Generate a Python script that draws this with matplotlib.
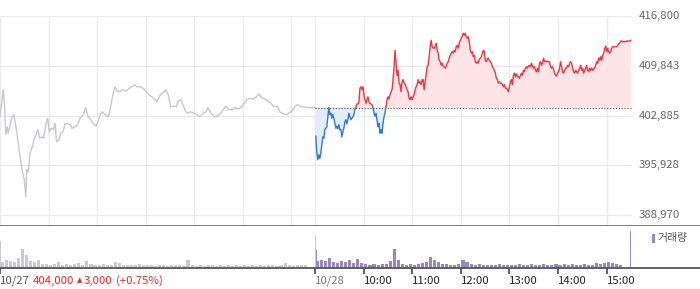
import numpy as np
import matplotlib
matplotlib.use("Agg")
import matplotlib.pyplot as plt
from matplotlib.patches import Rectangle
from matplotlib.transforms import blended_transform_factory

# ---------------- data ----------------
prev_close = 404000
y_ticks = [388970, 395928, 402885, 409843, 416800]
y_tick_labels = ["388,970", "395,928", "402,885", "409,843", "416,800"]

# 10/27 (previous day) minutes after 09:00 and prices
day1_minutes = [0, 4, 6, 7, 9, 10, 12, 15, 17, 20, 22, 25, 27, 30, 32, 33, 35, 37, 40, 42,
                45, 47, 49, 52, 54, 57, 59, 61, 63, 66, 68, 70, 73, 75, 78, 80, 83, 87, 89, 93,
                96, 99, 103, 106, 109, 111, 115, 119, 121, 124, 126, 130, 134, 136, 140, 142,
                145, 148, 152, 156, 160, 163, 167, 169, 173, 177, 181, 184, 188, 192, 194, 197,
                199, 203, 205, 208, 211, 214, 218, 220, 224, 226, 230, 232, 236, 240, 244, 247,
                251, 255, 257, 261, 265, 268, 272, 276, 279, 283, 287, 291, 294, 298, 302, 305,
                309, 313, 317, 320, 324, 328, 331, 335, 339, 343, 346, 350, 354, 357, 361, 365,
                368, 372, 376, 380, 383, 387, 390]
day1_prices = [402700, 406500, 403700, 400200, 401300, 400400, 401300, 402700, 403000, 401100,
               399500, 397100, 395500, 393900, 391500, 395300, 395000, 397600, 398500, 399500,
               400400, 400900, 399700, 399900, 399700, 401800, 402500, 400600, 401100, 400900,
               401800, 399200, 399500, 400400, 400600, 401600, 401800, 401600, 401100, 401300,
               401600, 402500, 403000, 404000, 402700, 402500, 401800, 401400, 402000, 403000,
               403400, 403000, 402700, 403700, 406000, 406900, 406300, 406200, 406500, 406300,
               406700, 406900, 407200, 406900, 406900, 406700, 406200, 405800, 405500, 405100,
               404800, 405500, 405900, 406200, 406500, 405800, 404100, 404200, 404100, 404900,
               405100, 404400, 403400, 403200, 403400, 403200, 403000, 402700, 403200, 403400,
               404000, 403200, 402700, 402800, 403100, 403700, 404200, 403700, 403700, 404000,
               403800, 404000, 404600, 405100, 405300, 405200, 405500, 405900, 405300, 405200,
               404900, 404600, 404100, 404200, 403400, 403100, 403000, 403200, 403500, 404200,
               404400, 404100, 404100, 404000, 404000, 404000, 404000]

# 10/28 prices, 09:00 -> 15:30, evenly sampled
day2_prices = [
    400000, 397600, 396700, 397400, 396900, 397600, 398800, 399900, 399700, 400900,
    401100, 401300, 402700, 404000, 403000, 403200, 402500, 403000, 402500, 401800,
    401100, 401400, 401000, 401600, 400900, 400900, 399900, 400600, 401100, 402000,
    402300, 401700, 402300, 403200, 402700, 402300, 402500, 402700, 403000, 403700,
    404100, 404500, 404500, 404800, 406700, 406900, 406500, 406900, 405800, 405100,
    404600, 405100, 405500, 404800, 404600, 404500, 404400, 404000, 403200, 402800,
    403200, 402300, 401300, 401800, 400400, 400900, 400400, 401800, 402700, 403200,
    404100, 405100, 405500, 405200, 405800, 406200, 406500, 407900, 409700, 412000,
    410200, 408500, 409200, 407400, 407200, 406200, 407600, 407900, 407400, 407300,
    406900, 406500, 406200, 405300, 405100, 405500, 405100, 405500, 405800, 406500,
    406900, 407200, 407900, 407400, 407600, 407200, 407900, 407900, 406500, 407600,
    408800, 409700, 409900, 411100, 412500, 413400, 412500, 412300, 412300, 412500,
    413000, 412000, 411600, 410600, 410400, 409900, 410200, 409700, 409700, 409500,
    409700, 410200, 410400, 410900, 411300, 411600, 411800, 411600, 412000, 411800,
    412500, 412700, 412300, 413000, 413400, 413700, 413900, 414400, 414100, 414400,
    413900, 413700, 413900, 413200, 412000, 411600, 411800, 411100, 411300, 410400,
    410200, 410400, 410200, 410800, 410900, 411100, 411600, 412000, 411800, 410600,
    410400, 410800, 410900, 410600, 410400, 410200, 409700, 409500, 409200, 408800,
    408100, 407900, 407400, 407600, 407400, 407400, 407200, 406900, 407200, 406700,
    406700, 406500, 406200, 406900, 407600, 407900, 407200, 408500, 408800, 408300,
    408700, 408300, 408300, 408100, 408500, 408800, 408500, 409200, 409000, 409500,
    409700, 409500, 409800, 409900, 409700, 410200, 409800, 409500, 409700, 409200,
    409000, 409500, 409000, 410200, 410400, 409900, 410200, 410900, 410400, 410500,
    410400, 410500, 410400, 410400, 409700, 409500, 409700, 409400, 408800, 408500,
    408400, 408800, 409000, 409500, 410400, 409700, 409000, 408800, 409200, 409500,
    409500, 409900, 409700, 410200, 410400, 410200, 409500, 409000, 408800, 409200,
    409000, 408800, 409200, 409500, 409900, 409200, 409500, 408800, 409200, 409500,
    409900, 409200, 409000, 409500, 409200, 409500, 409200, 409400, 409500, 409900,
    410400, 410200, 410900, 410600, 411100, 410600, 411300, 411600, 412300, 412600,
    411800, 412300, 411800, 411600, 411800, 412300, 412500, 412500, 412500, 412500,
    412500, 412700, 412900, 413000, 413300, 413300, 413200, 413200, 413200, 413200,
    413300, 413300, 413300, 413300, 413400]

# volume (relative units), 5-minute buckets 09:00-15:20 plus open/close prints
day1_open_vol = 27
day1_vol = [6, 8, 7, 6, 10, 19, 13, 7, 6, 8, 4, 4, 3, 4, 6, 3, 4, 3, 4, 5,
            3, 7, 4, 3, 3, 4, 3, 3, 6, 5, 3, 3, 3, 3, 4, 3, 3, 3, 2, 3,
            3, 2, 3, 3, 3, 2, 8, 3, 2, 3, 2, 3, 3, 2, 3, 2, 3, 2, 3, 2,
            3, 2, 3, 2, 3, 2, 3, 3, 2, 3, 5, 3, 2, 3, 3, 3]
day1_close_vol = 33
day2_open_vol = 18
day2_vol = [7, 8, 7, 10, 6, 5, 7, 6, 8, 5, 9, 5, 4, 3, 4, 3, 4, 4, 7, 19,
            8, 4, 3, 4, 3, 4, 5, 6, 11, 8, 6, 4, 4, 3, 3, 4, 8, 6, 4, 3,
            4, 3, 3, 3, 3, 4, 3, 3, 3, 3, 4, 3, 3, 4, 3, 3, 4, 3, 3, 4,
            3, 4, 3, 4, 3, 3, 4, 3, 3, 5, 4, 5, 6, 5, 4, 3]
day2_close_vol = 37

day_labels = ["10/27", "10/28"]
hour_labels = ["10:00", "11:00", "12:00", "13:00", "14:00", "15:00"]
close_text = "404,000"
change_mark = "\u25B2"
change_text = "3,000"
pct_text = "(+0.75%)"
legend_text = "거래량"

# ---------------- style ----------------
plt.rcParams["font.family"] = ["Noto Sans CJK KR", "DejaVu Sans"]
W, H = 700, 289
PX_PER_MIN = 0.8087
GRID = "#ebebeb"
RED = "#f5333f"
BLUE = "#2f78d8"
RED_FILL = "#fde4e6"
BLUE_FILL = "#e3ecf9"
GRAY_LINE = "#c6c8cc"
GRAY_BAR = "#c9cbce"
PURPLE = "#9587c8"

fig = plt.figure(figsize=(W / 100, H / 100), dpi=100)
fig.patch.set_facecolor("white")

top_px, main_bot_px, vol_bot_px = 16.0, 225.7, 268.3
ax = fig.add_axes([0, (H - main_bot_px) / H, 1, (main_bot_px - top_px) / H])
axv = fig.add_axes([0, (H - vol_bot_px) / H, 1, (vol_bot_px - main_bot_px) / H], sharex=ax)

xmax = W / PX_PER_MIN
ax.set_xlim(0, xmax)
step = (y_ticks[-1] - y_ticks[0]) / (len(y_ticks) - 1)
px_per_step = (215.0 - top_px) / (len(y_ticks) - 1)
ax.set_ylim(y_ticks[0] - step * (main_bot_px - 215.0) / px_per_step, y_ticks[-1])

# grid
grid_minutes = [0, 60, 120, 180, 240, 300, 360, 390, 450, 510, 570, 630, 690, 750]
ax.vlines(grid_minutes, *ax.get_ylim(), colors=GRID, lw=1, zorder=0)
ax.hlines(y_ticks, 0, 780, colors=GRID, lw=1, zorder=0)

# day 1
ax.plot(day1_minutes, day1_prices, color=GRAY_LINE, lw=1.0, zorder=2)

# day 2
p2 = np.array(day2_prices, dtype=float)
t2 = np.linspace(390.5, 780, len(p2))
ax.fill_between(t2, p2, prev_close, where=p2 >= prev_close, interpolate=True,
                color=RED_FILL, lw=0, zorder=1)
ax.fill_between(t2, p2, prev_close, where=p2 <= prev_close, interpolate=True,
                color=BLUE_FILL, lw=0, zorder=1)
red_line, = ax.plot(t2, p2, color=RED, lw=1.0, zorder=4)
blue_line, = ax.plot(t2, p2, color=BLUE, lw=1.0, zorder=4)
red_line.set_clip_path(Rectangle((380, prev_close), 420, 40000, transform=ax.transData))
blue_line.set_clip_path(Rectangle((380, prev_close - 40000), 420, 40000, transform=ax.transData))
ax.hlines(prev_close, 390, 780, colors="#444444", linestyles=(0, (1, 1.6)), lw=0.8, zorder=3)

# y labels
label_x = 639 / PX_PER_MIN
for v, s in zip(y_ticks, y_tick_labels):
    ax.text(label_x, v, s, ha="left", va="center", fontsize=8.2, color="#666666", clip_on=False)

for sp in ["top", "left", "right"]:
    ax.spines[sp].set_visible(False)
ax.spines["bottom"].set_color("#707070")
ax.spines["bottom"].set_linewidth(1.3)
ax.set_yticks([])
ax.tick_params(axis="x", which="both", length=0, labelbottom=False)

# volume
axv.set_ylim(0, vol_bot_px - main_bot_px)
b1 = np.arange(len(day1_vol)) * 5 + 2.5
b2 = 390 + np.arange(len(day2_vol)) * 5 + 2.5
axv.bar([0.6], [day1_open_vol], width=1.4, color=GRAY_BAR, lw=0)
axv.bar(b1, day1_vol, width=3.8, color=GRAY_BAR, lw=0)
axv.bar([389.6], [day1_close_vol], width=1.4, color=GRAY_BAR, lw=0)
axv.bar([391.0], [day2_open_vol], width=1.4, color=PURPLE, lw=0)
axv.bar(b2, day2_vol, width=3.8, color=PURPLE, lw=0)
axv.bar([780], [day2_close_vol], width=1.6, color=PURPLE, lw=0)

for sp in ["top", "left", "right"]:
    axv.spines[sp].set_visible(False)
axv.spines["bottom"].set_color("#555555")
axv.spines["bottom"].set_linewidth(1.3)
axv.set_yticks([])
tick_minutes = [0, 390, 450, 510, 570, 630, 690, 750]
axv.set_xticks(tick_minutes)
axv.set_xticklabels([])
axv.tick_params(axis="x", direction="out", length=4, width=1.2, color="#444444")
axv.set_xlim(0, xmax)

tr = blended_transform_factory(axv.transData, axv.transAxes)
ly = (vol_bot_px - 280.5) / (vol_bot_px - main_bot_px)
axv.text(0, ly, day_labels[0], transform=tr, ha="left", va="center", fontsize=8.2, color="#555555")
axv.text(33 / PX_PER_MIN, ly, close_text, transform=tr, ha="left", va="center",
         fontsize=8.2, color="#ff2020")
axv.text(76.5 / PX_PER_MIN, ly, change_mark, transform=tr, ha="left", va="center",
         fontsize=5.0, color="#ff2020", family="DejaVu Sans")
axv.text(83.5 / PX_PER_MIN, ly, change_text, transform=tr, ha="left", va="center",
         fontsize=8.2, color="#ff2020")
axv.text(116 / PX_PER_MIN, ly, pct_text, transform=tr, ha="left", va="center",
         fontsize=8.2, color="#ff2020")
axv.text(390, ly, day_labels[1], transform=tr, ha="left", va="center", fontsize=8.2, color="#777777")
for m, s in zip(tick_minutes[2:], hour_labels):
    axv.text(m, ly, s, transform=tr, ha="left", va="center", fontsize=8.2, color="#222222")

# legend
fig.add_artist(Rectangle((652 / W, (H - 243) / H), 3 / W, 9 / H, transform=fig.transFigure,
                         color=PURPLE, lw=0))
fig.text(657 / W, (H - 238.5) / H, legend_text, ha="left", va="center", fontsize=7.8, color="#555555")

fig.savefig("out.png", dpi=100)
